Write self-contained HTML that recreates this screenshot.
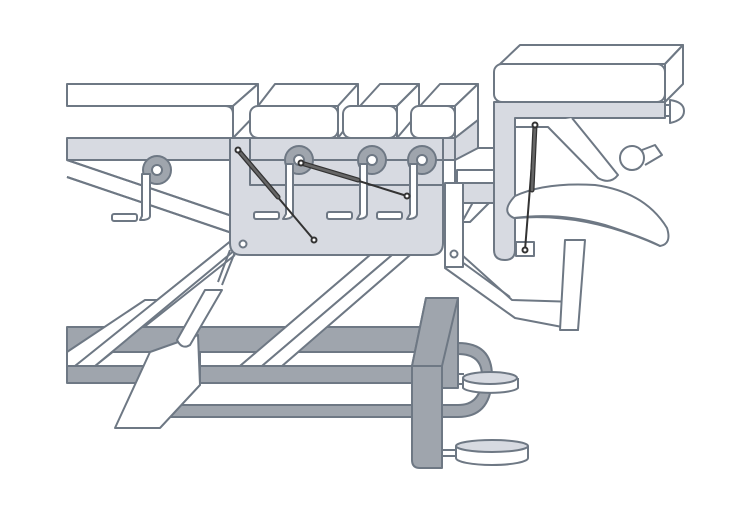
<!DOCTYPE html>
<html><head><style>html,body{margin:0;padding:0;background:#fff}svg{display:block}</style></head>
<body>
<svg width="750" height="507" viewBox="0 0 750 507" xmlns="http://www.w3.org/2000/svg">
<g stroke="#6e7884" stroke-width="2" stroke-linejoin="round" fill="none">
<path d="M67 160 L232 216 M67 177 L232 233" />
<path d="M75 366 L232 240 M95 366 L235 255" fill="none"/>
<path d="M240 366 L370 255 M262 366 L392 255 M282 366 L410 255"/>
<rect x="67" y="327" width="360" height="25" fill="#9fa5ad"/>
<rect x="67" y="366" width="350" height="17" fill="#9fa5ad"/>
<path d="M67 352 L67 366 L75 366 L160 300 L145 300 Z" fill="#fff"/>
<path d="M75 366 L232 240 L247 240 L95 366 Z" fill="#fff"/>
<path d="M240 366 L370 255 L392 255 L262 366 Z" fill="#fff"/>
<path d="M262 366 L392 255 L410 255 L282 366 Z" fill="#fff"/>
<path d="M165 405 L440 405 L440 417 L165 417 Z" fill="#9fa5ad"/>
<path d="M458 343 Q492 343 492 376 Q492 417 458 417 L440 417 L440 405 L458 405 Q482 405 482 376 Q482 354 458 354 Z" fill="#9fa5ad"/>
<path d="M150 352 L198 335 L200 385 L160 428 L115 428 Z" fill="#fff"/>
<path d="M160 428 L200 385 L200 352"/>
<path d="M230 250 L218 282 M235 252 L222 285" />
<path d="M205 290 L222 290 L190 345 Q182 350 177 340 Z" fill="#fff"/>
<path d="M426 298 L458 298 L458 388 L442 388 L442 366 L412 366 Z" fill="#9fa5ad"/>
<path d="M426 298 L458 298 L442 366 L412 366 Z" fill="#9fa5ad"/>
<path d="M412 366 L442 366 L442 468 L420 468 Q412 468 412 460 Z" fill="#9fa5ad"/>
<path d="M458 374 L464 374 M458 384 L464 384"/>
<path d="M463 378 L463 388 A28 6 0 0 0 518 388 L518 378" fill="#fff"/>
<ellipse cx="490" cy="378" rx="27" ry="6" fill="#d7dae1"/>
<path d="M442 450 L456 450 M442 456 L456 456"/>
<path d="M456 446 L456 458 A36 7 0 0 0 528 458 L528 446" fill="#fff"/>
<ellipse cx="492" cy="446" rx="36" ry="6" fill="#d7dae1"/>
<path d="M462 255 L512 300 L578 302 L578 330 L515 318 L445 268 Z" fill="#fff"/>
<path d="M462 262 L510 297 M578 302 L578 330"/>
<path d="M565 240 L585 240 L578 330 L560 330 Z" fill="#fff"/>
<path d="M477 195 L497 195 L470 222 L462 222 Z" fill="#fff"/>
<rect x="67" y="138" width="395" height="22" fill="#d7dae1"/>
<path d="M67 160 L232 216 M67 177 L232 233"/>
<rect x="455" y="148" width="45" height="35" fill="#fff"/>
<rect x="457" y="170" width="40" height="13" fill="#fff"/>
<rect x="455" y="183" width="60" height="20" fill="#d7dae1"/>
<path d="M230 138 L443 138 L443 243 Q443 255 431 255 L242 255 Q230 255 230 243 Z" fill="#d7dae1"/>
<path d="M250 138 L250 185 L443 185 M250 160 L443 160"/>
<circle cx="243" cy="244" r="3.5" fill="#fff"/>
<path d="M445 183 L463 183 L463 267 L445 267 Z" fill="#fff"/>
<circle cx="454" cy="254" r="3.5" fill="#fff"/>
<g fill="#9fa5ad"><circle cx="157" cy="170" r="14"/><circle cx="299" cy="160" r="14"/><circle cx="372" cy="160" r="14"/><circle cx="422" cy="160" r="14"/></g>
<g fill="#fff"><circle cx="157" cy="170" r="5"/><circle cx="299" cy="160" r="5"/><circle cx="372" cy="160" r="5"/><circle cx="422" cy="160" r="5"/></g>
<g fill="#fff">
<path d="M142 174 L150 174 L150 216 Q150 219 144 220 L140 220 L142 216 Z"/>
<path d="M286 164 L293 164 L293 214 Q293 218 286 219 L283 219 L286 214 Z"/>
<path d="M360 164 L367 164 L367 214 Q367 218 360 219 L357 219 L360 214 Z"/>
<path d="M410 164 L417 164 L417 214 Q417 218 410 219 L407 219 L410 214 Z"/>
<rect x="112" y="214" width="25" height="7" rx="2"/>
<rect x="254" y="212" width="25" height="7" rx="2"/>
<rect x="327" y="212" width="25" height="7" rx="2"/>
<rect x="377" y="212" width="25" height="7" rx="2"/>
</g>
<path d="M67 84 L258 84 L233 106 L67 106 Z" fill="#fff"/>
<path d="M67 106 L225 106 Q233 106 233 114 L233 138 L67 138" fill="#fff"/>
<path d="M233 106 L258 84 L258 112 L233 138 Z" fill="#fff"/>
<path d="M275 84 L358 84 L338 106 L258 106 Z" fill="#fff"/>
<path d="M338 106 L358 84 L358 112 L338 138 Z" fill="#fff"/>
<rect x="250" y="106" width="88" height="32" rx="8" fill="#fff"/>
<path d="M380 84 L419 84 L397 106 L360 106 Z" fill="#fff"/>
<path d="M397 106 L419 84 L419 112 L397 138 Z" fill="#fff"/>
<rect x="343" y="106" width="54" height="32" rx="8" fill="#fff"/>
<path d="M440 84 L478 84 L455 106 L420 106 Z" fill="#fff"/>
<path d="M455 106 L478 84 L478 120 L455 138 Z" fill="#fff"/>
<rect x="411" y="106" width="44" height="32" rx="8" fill="#fff"/>
<path d="M455 138 L478 120 L478 148 L455 160 Z" fill="#d7dae1"/>
<path d="M494 102 L665 102 L665 118 L515 118 L515 250 Q515 260 505 260 Q494 260 494 250 Z" fill="#d7dae1"/>
<path d="M515 127 L548 127 L598 178 Q610 185 618 175 L598 150 L572 118"  fill="#fff"/>
<path d="M642 150 L655 145 L662 155 L645 165" fill="#fff"/>
<circle cx="632" cy="158" r="12" fill="#fff"/>
<path d="M665 105 L670 105 L670 116 L665 116"/>
<path d="M670 100 Q684 102 684 111 Q684 120 670 123 Z" fill="#fff"/>
<path d="M520 45 L683 45 L665 64 L500 64 Z" fill="#fff"/>
<path d="M665 64 L683 45 L683 84 L665 102 Z" fill="#fff"/>
<rect x="494" y="64" width="171" height="38" rx="8" fill="#fff"/>
<path d="M515 196 Q500 212 514 218 Q560 212 605 225 Q645 238 660 246 Q672 244 667 228 Q645 192 595 185 Q545 182 515 196 Z" fill="#fff"/>
<path d="M516 218 Q585 212 660 246"/>
<rect x="516" y="242" width="18" height="14" fill="#fff"/>
</g>
<g stroke-linecap="round">
<line x1="238" y1="150" x2="314" y2="240" stroke="#333" stroke-width="2"/>
<line x1="238" y1="150" x2="278" y2="197" stroke="#333" stroke-width="5"/>
<line x1="238" y1="150" x2="278" y2="197" stroke="#666" stroke-width="2.5"/>
<line x1="301" y1="163" x2="407" y2="196" stroke="#333" stroke-width="2"/>
<line x1="301" y1="163" x2="358" y2="180" stroke="#333" stroke-width="5"/>
<line x1="301" y1="163" x2="358" y2="180" stroke="#666" stroke-width="2.5"/>
<line x1="535" y1="125" x2="525" y2="250" stroke="#333" stroke-width="2"/>
<line x1="535" y1="125" x2="532" y2="190" stroke="#333" stroke-width="5"/>
<line x1="535" y1="125" x2="532" y2="190" stroke="#666" stroke-width="2.5"/>
</g>
<g fill="#fff" stroke="#333" stroke-width="2">
<circle cx="238" cy="150" r="2.5"/><circle cx="314" cy="240" r="2.5"/>
<circle cx="301" cy="163" r="2.5"/><circle cx="407" cy="196" r="2.5"/>
<circle cx="535" cy="125" r="2.5"/><circle cx="525" cy="250" r="2.5"/>
</g>
</svg>
</body></html>
